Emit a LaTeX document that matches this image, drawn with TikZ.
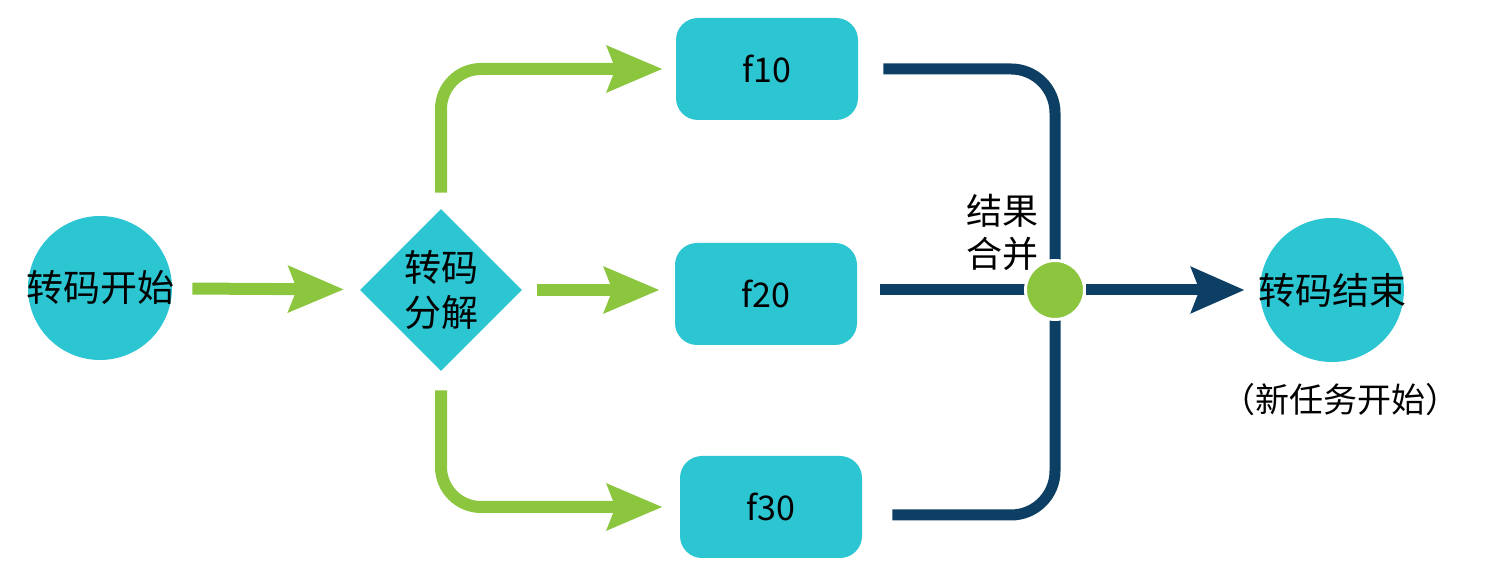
\documentclass[tikz,border=0pt]{standalone}
\usepackage{fontspec}
\newfontfamily\cjk{Noto Sans CJK SC}
\usetikzlibrary{shapes.geometric,arrows.meta}

\definecolor{taskcyan}{HTML}{2CC5D2}
\definecolor{flowgreen}{HTML}{8CC63F}
\definecolor{mergeblue}{HTML}{0C3F63}

\begin{document}
\begin{tikzpicture}[x=0.5pt,y=-0.5pt]
      \tikzset{
        every node/.style={font=\cjk\fontsize{18.5pt}{22.5pt}\selectfont,inner sep=0pt},
        endpoint/.style={circle,fill=taskcyan,minimum size=72pt},
        splitter/.style={diamond,fill=taskcyan,minimum size=81pt,align=center},
        task/.style={rectangle,rounded corners=11pt,fill=taskcyan,minimum width=91pt,minimum height=51pt,
          font=\cjk\fontsize{17pt}{20pt}\selectfont},
        greenflow/.style={draw=flowgreen,line width=6pt,rounded corners=20pt,
          -{Stealth[length=27.5pt,width=22.5pt,inset=4pt]}},
        blueflow/.style={draw=mergeblue,line width=5.5pt,rounded corners=22pt},
        joindot/.style={circle,fill=flowgreen,draw=white,line width=1.5pt,minimum size=29.5pt}
      }
      \useasboundingbox (0,0) rectangle (1496,576);

      \node[endpoint] (start) at (100,288) {\makebox[0pt]{转码开始}};
      \node[splitter] (split) at (441,290) {转码\\分解};
      \node[task] (f10) at (767,69) {f10};
      \node[task] (f20) at (766,294) {f20};
      \node[task] (f30) at (771,507) {f30};
      \node[endpoint] (finish) at (1332,290) {\makebox[0pt]{转码结束}};
      \node[font=\cjk\fontsize{17pt}{20pt}\selectfont] (note) at (1340,400) {（新任务开始）};
      \node[align=center,font=\cjk\fontsize{18pt}{21.5pt}\selectfont] (mergelabel) at (1002,232) {结果\\合并};
      \coordinate (merge) at (1055,290);

      % decomposition
      \draw[greenflow,shorten <=10pt,shorten >=8pt] (start) -- (split);
      \draw[greenflow,shorten <=8pt,shorten >=6.5pt] (split.north) |- (f10.west);
      \draw[greenflow,shorten <=7.5pt,shorten >=7.5pt] (split.east) -- (split.east -| f20.west);
      \draw[greenflow,shorten <=9.5pt,shorten >=8.5pt] (split.south) |- (f30.west);

      % merging
      \draw[blueflow,shorten <=12.5pt] (f10.east) -| (merge);
      \draw[blueflow,shorten <=11.5pt] (f20.east |- merge) -- (merge);
      \draw[blueflow,shorten <=15pt] ([yshift=-4pt]f30.east) -| (merge);
      \node[joindot] (join) at (merge) {};
      \draw[blueflow,shorten >=7.5pt,-{Stealth[length=26.5pt,width=22.5pt,inset=4pt]}] (join) -- (finish);
    \end{tikzpicture}
\end{document}
